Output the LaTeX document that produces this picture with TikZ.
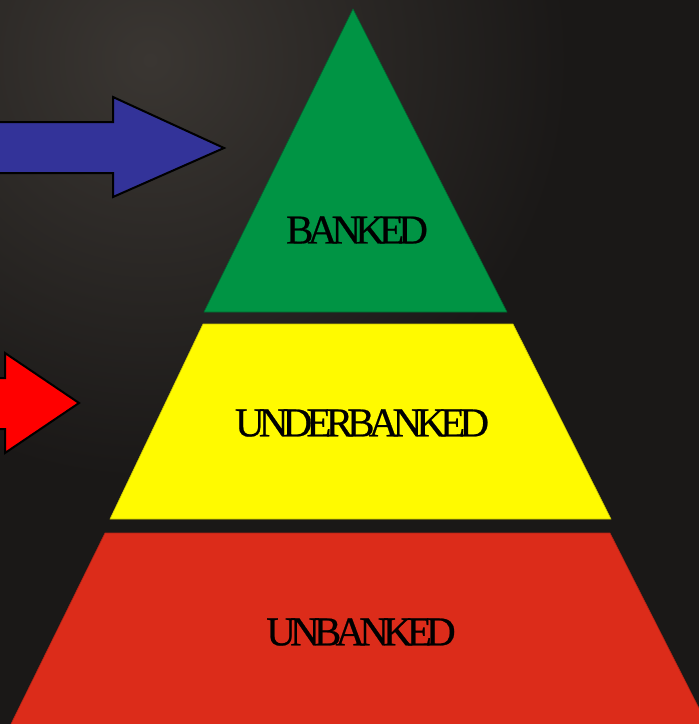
\documentclass[tikz,border=0pt]{standalone}
\usepackage{fontspec}
\setmainfont{Liberation Serif}
\newfontfamily\labelfont[FakeBold=0.6]{Liberation Serif}
\definecolor{bgmid}{HTML}{3A3632}
\definecolor{bgbot}{HTML}{1A1817}
\definecolor{pgreen}{HTML}{009444}
\definecolor{pyellow}{HTML}{FFFA00}
\definecolor{pred}{HTML}{DC2C1A}
\definecolor{ablue}{HTML}{333399}
\definecolor{ared}{HTML}{FF0000}
\tikzset{
  tier/.style={line width=0.6pt},
  bigarrow/.style={draw=black, line width=2pt, line join=miter},
  label/.style={font=\labelfont\fontsize{41}{41}\selectfont, text=black, inner sep=0pt}
}
\begin{document}
\begin{tikzpicture}[x=1pt,y=-1pt]
  \useasboundingbox (0,0) rectangle (699,724);
  \fill[bgbot] (0,0) rectangle (699,724);
  \begin{scope}
    \clip (0,0) rectangle (699,724);
    \shade[inner color=bgmid, outer color=bgbot] (150,60) circle (420);
  \end{scope}
  % pyramid tiers
  \fill[pgreen, draw=pgreen!70!black, tier] (353,9) -- (507,312) -- (204,312) -- cycle;
  \fill[pyellow, draw=pyellow!80!black, tier] (203,324) -- (513,324) -- (611,519) -- (110,519) -- cycle;
  \fill[pred, draw=pred!80!black, tier] (105,533) -- (610,533) -- (708,726) -- (10,726) -- cycle;
  % arrows
  \draw[bigarrow, fill=ablue] (-5,122) -- (113,122) -- (113,97) -- (224,148) -- (113,197) -- (113,173) -- (-5,173) -- cycle;
  \draw[bigarrow, fill=ared] (-5,378) -- (5,378) -- (5,353) -- (79,403) -- (5,453) -- (5,429) -- (-5,429) -- cycle;
  % labels
  \node[label] (banked) at (357,230) {B\kern-5.8pt A\kern-5.8pt N\kern-5.8pt K\kern-5.8pt E\kern-5.8pt D};
  \node[label] (under) at (362,423) {U\kern-5.8pt N\kern-5.8pt D\kern-5.8pt E\kern-5.8pt R\kern-5.8pt B\kern-5.8pt A\kern-5.8pt N\kern-5.8pt K\kern-5.8pt E\kern-5.8pt D};
  \node[label] (unbanked) at (361,632) {U\kern-5.8pt N\kern-5.8pt B\kern-5.8pt A\kern-5.8pt N\kern-5.8pt K\kern-5.8pt E\kern-5.8pt D};
\end{tikzpicture}
\end{document}
